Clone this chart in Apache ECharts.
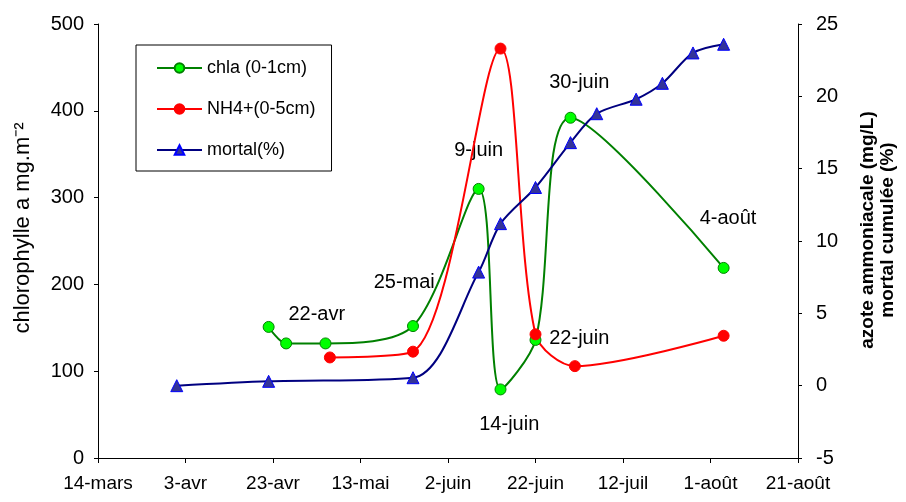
<!DOCTYPE html>
<html>
<head>
<meta charset="utf-8">
<script src="https://cdn.jsdelivr.net/npm/echarts@6/dist/echarts.min.js"></script>
<style>
  html, body { margin: 0; padding: 0; background: #fff; }
  #main { width: 906px; height: 502px; }
</style>
</head>
<body>
<div id="main"></div>
<script>
// x axis: days counted from 14-mars, one tick every 20 days
const startDate = '2005-03-14';
const xTickLabels = ['14-mars', '3-avr', '23-avr', '13-mai', '2-juin', '22-juin', '12-juil', '1-août', '21-août'];

// chlorophylle a (left axis)
const chlaDates = ['2005-04-22', '2005-04-26', '2005-05-05', '2005-05-25', '2005-06-09', '2005-06-14', '2005-06-22', '2005-06-30', '2005-08-04'];
const chlaValues = [151, 132, 132, 152, 310, 79, 136, 392, 219];

// NH4+ (right axis)
const nh4Dates = ['2005-05-06', '2005-05-25', '2005-06-14', '2005-06-22', '2005-07-01', '2005-08-04'];
const nh4Values = [1.95, 2.35, 23.3, 3.55, 1.35, 3.45];

// mortalité cumulée (right axis)
const mortalDates = ['2005-04-01', '2005-04-22', '2005-05-25', '2005-06-09', '2005-06-14', '2005-06-22', '2005-06-30', '2005-07-06', '2005-07-15', '2005-07-21', '2005-07-28', '2005-08-04'];
const mortalValues = [0, 0.3, 0.55, 7.85, 11.2, 13.7, 16.8, 18.8, 19.8, 20.9, 23.0, 23.6];

// date labels written in the plot (anchored on the left axis scale)
const noteDates = ['2005-05-03', '2005-05-23', '2005-06-09', '2005-06-16', '2005-07-02', '2005-07-02', '2005-08-05'];
const noteValues = [165, 202, 354, 39, 138, 433, 276];
const noteTexts = ['22-avr', '25-mai', '9-juin', '14-juin', '22-juin', '30-juin', '4-août'];

function dayIndex(d) {
  return (Date.parse(d) - Date.parse(startDate)) / 86400000;
}

function pairs(dates, values) {
  return dates.map((d, i) => [dayIndex(d), values[i]]);
}

const font = "'Liberation Sans', Arial, sans-serif";

let myChart = echarts.init(document.getElementById('main'));
myChart.setOption({
  animation: false,
  textStyle: { fontFamily: font },
  grid: { left: 98, right: 107, top: 24, bottom: 44 },
  legend: {
    data: ['chla (0-1cm)', 'NH4+(0-5cm)', 'mortal(%)'],
    orient: 'vertical',
    left: 136,
    top: 45,
    itemWidth: 45,
    itemHeight: 12,
    itemGap: 23,
    padding: [14, 16, 12, 20],
    borderColor: '#000',
    borderWidth: 1,
    textStyle: { fontFamily: font, fontSize: 18, color: '#000' }
  },
  xAxis: {
    type: 'value',
    min: 0,
    max: 160,
    interval: 20,
    splitLine: { show: false },
    axisLine: { onZero: false, lineStyle: { color: '#000' } },
    axisTick: { length: 5, lineStyle: { color: '#000' } },
    axisLabel: {
      color: '#000',
      fontSize: 19,
      margin: 16,
      formatter: v => xTickLabels[Math.round(v / 20)]
    }
  },
  yAxis: [
    {
      type: 'value',
      min: 0,
      max: 500,
      interval: 100,
      name: 'chlorophylle a mg.m⁻²',
      nameLocation: 'middle',
      nameGap: 64,
      nameTextStyle: { fontSize: 22, color: '#000', padding: [0, 0, 0, 26] },
      splitLine: { show: false },
      axisLine: { show: true, lineStyle: { color: '#000' } },
      axisTick: { show: true, length: 4, lineStyle: { color: '#000' } },
      axisLabel: { color: '#000', fontSize: 20, margin: 14 }
    },
    {
      type: 'value',
      min: -5,
      max: 25,
      interval: 5,
      position: 'right',
      name: 'azote ammoniacale (mg/L)\nmortal cumulée (%)',
      nameLocation: 'middle',
      nameRotate: 90,
      nameGap: 60,
      nameTextStyle: { fontSize: 19, fontWeight: 'bold', color: '#000', lineHeight: 20, padding: [0, 0, 0, 22] },
      splitLine: { show: false },
      axisLine: { show: true, lineStyle: { color: '#000' } },
      axisTick: { show: true, length: 4, lineStyle: { color: '#000' } },
      axisLabel: { color: '#000', fontSize: 20, margin: 18 }
    }
  ],
  series: [
    {
      name: 'chla (0-1cm)',
      type: 'line',
      yAxisIndex: 0,
      smooth: 0.3,
      smoothConstraint: false,
      symbol: 'circle',
      symbolSize: 11,
      data: pairs(chlaDates, chlaValues),
      lineStyle: { color: '#008000', width: 2 },
      itemStyle: { color: '#00ff00', borderColor: '#008000', borderWidth: 1 }
    },
    {
      name: 'NH4+(0-5cm)',
      type: 'line',
      yAxisIndex: 1,
      smooth: 0.3,
      smoothConstraint: false,
      symbol: 'circle',
      symbolSize: 11,
      data: pairs(nh4Dates, nh4Values),
      lineStyle: { color: '#ff0000', width: 2 },
      itemStyle: { color: '#ff0000', borderColor: '#ff0000', borderWidth: 1 }
    },
    {
      name: 'mortal(%)',
      type: 'line',
      yAxisIndex: 1,
      smooth: 0.3,
      smoothConstraint: false,
      symbol: 'triangle',
      symbolSize: 12,
      data: pairs(mortalDates, mortalValues),
      lineStyle: { color: '#000080', width: 2 },
      itemStyle: { color: '#333399', borderColor: '#0000ff', borderWidth: 1 }
    },
    {
      name: 'notes',
      type: 'scatter',
      yAxisIndex: 0,
      symbolSize: 0,
      silent: true,
      data: noteDates.map((d, i) => [dayIndex(d), noteValues[i], noteTexts[i]]),
      label: {
        show: true,
        position: 'inside',
        color: '#000',
        opacity: 1,
        textBorderWidth: 0,
        fontSize: 20,
        formatter: p => p.data[2]
      }
    }
  ]
});
</script>
</body>
</html>
